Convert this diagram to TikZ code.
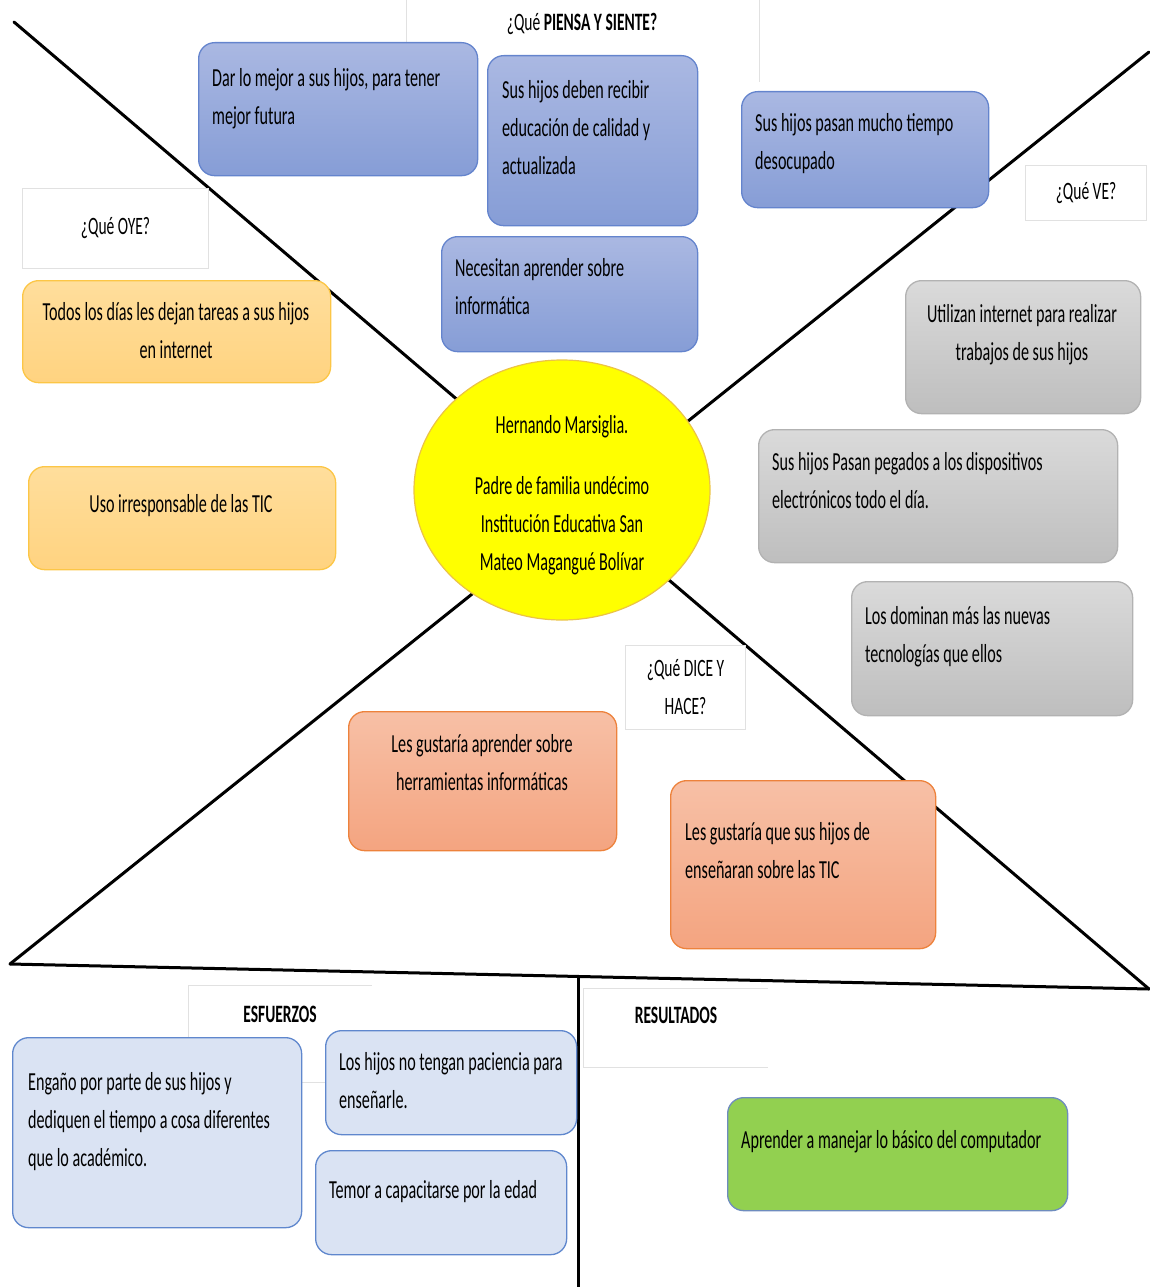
\documentclass[tikz,border=0pt]{standalone}
\usepackage{fontspec}
\setmainfont{Carlito}[FakeStretch=0.62]
\usetikzlibrary{shapes.geometric,shadings}

\definecolor{bluetop}{RGB}{170,184,226}
\definecolor{bluebot}{RGB}{134,157,214}
\definecolor{blueedge}{RGB}{100,132,205}
\definecolor{yeltop}{RGB}{255,222,156}
\definecolor{yelbot}{RGB}{255,211,128}
\definecolor{yeledge}{RGB}{252,198,70}
\definecolor{graytop}{RGB}{218,218,218}
\definecolor{graybot}{RGB}{190,190,190}
\definecolor{grayedge}{RGB}{178,178,178}
\definecolor{saltop}{RGB}{247,192,166}
\definecolor{salbot}{RGB}{244,164,128}
\definecolor{saledge}{RGB}{237,130,60}
\definecolor{paleblue}{RGB}{218,227,243}
\definecolor{paleedge}{RGB}{95,135,205}
\definecolor{leaf}{RGB}{146,208,80}
\definecolor{leafedge}{RGB}{110,140,190}
\definecolor{frame}{RGB}{225,225,225}
\definecolor{sun}{RGB}{255,255,0}
\definecolor{sunedge}{RGB}{235,195,70}

\begin{document}
\begin{tikzpicture}[x=1pt,y=-1pt,
  box/.style={rounded corners=16pt, line width=1.3pt, inner sep=0pt, anchor=north west},
  bluebox/.style={box, draw=blueedge, top color=bluetop, bottom color=bluebot},
  yelbox/.style={box, draw=yeledge, top color=yeltop, bottom color=yelbot},
  graybox/.style={box, draw=grayedge, top color=graytop, bottom color=graybot},
  salbox/.style={box, draw=saledge, top color=saltop, bottom color=salbot},
  palebox/.style={box, draw=paleedge, fill=paleblue},
  leafbox/.style={box, draw=leafedge, fill=leaf},
  axis/.style={line width=3pt, line cap=round, line join=round},
  framed/.style={draw=frame, line width=1pt},
  txt/.style={inner sep=0pt, font=\fontsize{26}{38}\selectfont, align=left, anchor=north west},
  ctxt/.style={txt, align=center, anchor=north},
  lbl/.style={inner sep=0pt, font=\fontsize{25}{38}\selectfont, align=center}
]
\useasboundingbox (0,0) rectangle (1149,1287);

% corner points of the map
\coordinate (TL) at (14,22);
\coordinate (TR) at (1149,52);
\coordinate (BL) at (10,964);
\coordinate (BR) at (1149,989);
\coordinate (MidTop) at (578,977);
\coordinate (MidBot) at (578,1287);

% the crossing diagonals, base line and lower divider
\draw[axis] (TL) -- (BR);
\draw[axis] (TR) -- (BL);
\draw[axis] (BL) -- (BR);
\draw[axis] (MidTop) -- (MidBot);

% light frames of the section titles
\draw[framed] (406,0) -- (406,42);
\draw[framed] (759,0) -- (759,82);
\node[framed, fill=white, minimum width=186, minimum height=80, anchor=north west, inner sep=0pt] (oyeframe) at (22,188) {};
\node[framed, fill=white, minimum width=121, minimum height=55, anchor=north west, inner sep=0pt] (veframe) at (1025,165) {};
\node[framed, fill=white, minimum width=120, minimum height=84, anchor=north west, inner sep=0pt] (diceframe) at (625,645) {};
\draw[framed] (372,985) -- (188,985) -- (188,1082) -- (330,1082);
\draw[framed] (768,988) -- (583,988) -- (583,1067) -- (768,1067);

% section titles
\node[lbl] (piensa) at (582,24) {¿Qué \textbf{PIENSA Y SIENTE?}};
\node[lbl] (oye) at (oyeframe.center) {¿Qué OYE?};
\node[lbl] (ve) at (veframe.center) {¿Qué VE?};
\node[lbl, font=\fontsize{25}{38}\selectfont] (dice) at (diceframe.center) {¿Qué DICE Y\\HACE?};
\node[lbl] (esf) at (280,1014) {\textbf{ESFUERZOS}};
\node[lbl] (res) at (676,1015) {\textbf{RESULTADOS}};

% thinks and feels
\node[bluebox, minimum width=279, minimum height=133] (p1) at (198,42) {};
\node[txt] (p1t) at (212,60) {\strut Dar lo mejor a sus hijos, para tener\\\strut mejor futura};
\node[bluebox, minimum width=210, minimum height=170] (p2) at (487,55) {};
\node[txt] (p2t) at (502,72) {\strut Sus hijos deben recibir\\\strut educación de calidad y\\\strut actualizada};
\node[bluebox, minimum width=247, minimum height=116] (p3) at (741,91) {};
\node[txt] (p3t) at (755,105) {\strut Sus hijos pasan mucho tiempo\\\strut desocupado};
\node[bluebox, minimum width=256, minimum height=115] (p4) at (441,236) {};
\node[txt] (p4t) at (455,250) {\strut Necesitan aprender sobre\\\strut informática};

% hears
\node[yelbox, minimum width=308, minimum height=102] (o1) at (22,280) {};
\node[ctxt] (o1t) at (176,294) {\strut Todos los días les dejan tareas a sus hijos\\\strut en internet};
\node[yelbox, minimum width=307, minimum height=103] (o2) at (28,466) {};
\node[ctxt] (o2t) at (181,486) {\strut Uso irresponsable de las TIC};

% sees
\node[graybox, minimum width=235, minimum height=133] (v1) at (905,280) {};
\node[ctxt] (v1t) at (1022,296) {\strut Utilizan internet para realizar\\\strut trabajos de sus hijos};
\node[graybox, minimum width=359, minimum height=133] (v2) at (758,429) {};
\node[txt] (v2t) at (772,444) {\strut Sus hijos Pasan pegados a los dispositivos\\\strut electrónicos todo el día.};
\node[graybox, minimum width=281, minimum height=134] (v3) at (851,581) {};
\node[txt] (v3t) at (865,598) {\strut Los dominan más las nuevas\\\strut tecnologías que ellos};

% says and does
\node[salbox, minimum width=268, minimum height=139] (d1) at (348,711) {};
\node[ctxt] (d1t) at (482,726) {\strut Les gustaría aprender sobre\\\strut herramientas informáticas};
\node[salbox, minimum width=265, minimum height=168] (d2) at (670,780) {};
\node[txt] (d2t) at (685,814) {\strut Les gustaría que sus hijos de\\\strut enseñaran sobre las TIC};

% efforts
\node[palebox, minimum width=289, minimum height=190] (e1) at (12,1037) {};
\node[txt] (e1t) at (28,1064) {\strut Engaño por parte de sus hijos y\\\strut dediquen el tiempo a cosa diferentes\\\strut que lo académico.};
\node[palebox, minimum width=251, minimum height=104] (e2) at (325,1030) {};
\node[txt] (e2t) at (339,1044) {\strut Los hijos no tengan paciencia para\\\strut enseñarle.};
\node[palebox, minimum width=251, minimum height=104] (e3) at (315,1150) {};
\node[txt] (e3t) at (329,1172) {\strut Temor a capacitarse por la edad};

% results
\node[leafbox, minimum width=340, minimum height=113] (r1) at (727,1097) {};
\node[txt] (r1t) at (741,1122) {\strut Aprender a manejar lo básico del computador};

% the person at the centre
\node[ellipse, draw=sunedge, line width=1.2pt, fill=sun, minimum width=296, minimum height=260, inner sep=0pt] (who) at (562,490) {};
\node[ctxt] (whot) at (562,407) {\strut Hernando Marsiglia.\\[23pt]\strut Padre de familia undécimo\\\strut Institución Educativa San\\\strut Mateo Magangué Bolívar};
\end{tikzpicture}
\end{document}
